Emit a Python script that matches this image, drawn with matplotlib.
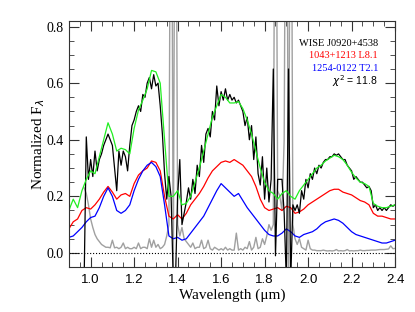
import numpy as np
import matplotlib
matplotlib.use("Agg")
import matplotlib.pyplot as plt
from matplotlib.ticker import MultipleLocator

# model grid (0.02 um steps)
model_wave = np.round(np.arange(0.90, 2.401, 0.02), 2)

green_fit = [0.15, 0.19, 0.16, 0.22, 0.26, 0.29, 0.28, 0.34, 0.40, 0.46,
             0.42, 0.36, 0.37, 0.365, 0.35, 0.44, 0.505, 0.54, 0.58, 0.645,
             0.64, 0.60, 0.40, 0.20, 0.20, 0.22, 0.17, 0.175, 0.20, 0.25,
             0.30, 0.36, 0.42, 0.48, 0.52, 0.56, 0.55, 0.53, 0.53, 0.535,
             0.51, 0.47, 0.42, 0.36, 0.30, 0.25, 0.22, 0.21, 0.19, 0.21,
             0.22, 0.20, 0.19, 0.22, 0.24, 0.26, 0.28, 0.30, 0.31, 0.325,
             0.335, 0.345, 0.34, 0.33, 0.31, 0.285, 0.265, 0.25, 0.245, 0.235,
             0.175, 0.165, 0.16, 0.16, 0.165, 0.17]

red_l81 = [0.085, 0.11, 0.12, 0.15, 0.16, 0.155, 0.17, 0.19, 0.215, 0.235,
           0.215, 0.19, 0.205, 0.21, 0.20, 0.245, 0.275, 0.29, 0.30, 0.325,
           0.32, 0.29, 0.20, 0.13, 0.12, 0.135, 0.12, 0.14, 0.17, 0.19,
           0.21, 0.235, 0.265, 0.29, 0.305, 0.32, 0.325, 0.32, 0.33, 0.32,
           0.31, 0.29, 0.27, 0.235, 0.19, 0.16, 0.15, 0.155, 0.16, 0.15,
           0.165, 0.16, 0.14, 0.145, 0.155, 0.17, 0.18, 0.19, 0.20, 0.21,
           0.22, 0.225, 0.225, 0.215, 0.21, 0.205, 0.195, 0.185, 0.18, 0.17,
           0.14, 0.13, 0.13, 0.125, 0.12, 0.12]

blue_t21 = [0.055, 0.06, 0.075, 0.09, 0.11, 0.125, 0.13, 0.16, 0.20, 0.23,
            0.20, 0.15, 0.14, 0.15, 0.17, 0.22, 0.26, 0.29, 0.31, 0.32,
            0.305, 0.27, 0.17, 0.06, 0.05, 0.055, 0.045, 0.05, 0.07, 0.09,
            0.11, 0.13, 0.16, 0.19, 0.22, 0.245, 0.23, 0.215, 0.20, 0.21,
            0.185, 0.16, 0.14, 0.12, 0.10, 0.08, 0.065, 0.06, 0.06, 0.07,
            0.085, 0.075, 0.06, 0.055, 0.065, 0.07, 0.075, 0.085, 0.10, 0.11,
            0.115, 0.12, 0.115, 0.105, 0.09, 0.075, 0.065, 0.06, 0.055, 0.05,
            0.045, 0.04, 0.035, 0.035, 0.04, 0.045]

# observed spectrum (0.01 um steps)
data_wave = np.round(np.arange(0.97, 2.405, 0.01), 2)

flux = [-0.10, 0.41, 0.26, 0.33, 0.27, 0.36, 0.29, 0.33, 0.35, 0.38,
        0.40, 0.42, 0.40, 0.38, 0.30, 0.22, 0.36, 0.31, 0.36, 0.34,
        0.29, 0.38, 0.45, 0.47, 0.50, 0.52, 0.50, 0.56, 0.55, 0.60,
        0.62, 0.58, 0.63, 0.59, 0.60, 0.52, 0.42, 0.28, 0.19, 0.27,
        0.20, -0.10, -0.10, 0.20, 0.33, 0.10, 0.14, 0.18, 0.23, 0.19,
        0.26, 0.21, 0.31, 0.27, 0.38, 0.32, 0.42, 0.44, 0.41, 0.50,
        0.47, 0.59, 0.52, 0.57, 0.54, 0.58, 0.54, 0.56, 0.54, 0.55,
        0.53, 0.54, 0.52, 0.50, 0.45, 0.48, 0.40, 0.45, 0.33, 0.41,
        0.28, 0.24, 0.34, 0.19, 0.30, 0.18, 0.26, 0.65, -0.01, 0.26,
        0.26, 0.26, 0.14, -0.10, 0.65, -0.10, 0.17, 0.15, 0.17, 0.14,
        0.22, 0.19, 0.26, 0.23, 0.28, 0.26, 0.30, 0.28, 0.31, 0.30,
        0.32, 0.33, 0.33, 0.34, 0.34, 0.35, 0.345, 0.35, 0.34, 0.33,
        0.33, 0.31, 0.30, 0.29, 0.26, 0.27, 0.26, 0.25, 0.25, 0.24,
        0.23, 0.235, 0.22, 0.16, 0.17, 0.15, 0.16, 0.15, 0.16, 0.15,
        0.16, 0.17, 0.165, 0.17]

noise = [0.23, 0.21, 0.17, 0.12, 0.09, 0.065, 0.05, 0.04, 0.03, 0.025,
         0.02, 0.02, 0.018, 0.045, 0.018, 0.02, 0.015, 0.02, 0.035, 0.015,
         0.02, 0.015, 0.015, 0.02, 0.015, 0.035, 0.015, 0.02, 0.02, 0.015,
         0.05, 0.02, 0.045, 0.02, 0.03, 0.015, 0.02, 0.03, 0.06, 0.10,
         2.0, -0.1, 2.0, 0.10, 0.06, 0.09, 0.05, 0.04, 0.03, 0.02,
         0.035, 0.015, 0.02, 0.02, 0.045, 0.015, 0.02, 0.045, 0.015, 0.01,
         0.02, 0.015, 0.01, 0.015, 0.01, 0.02, 0.01, 0.015, 0.01, 0.01,
         0.07, 0.01, 0.015, 0.01, 0.02, 0.015, 0.04, 0.01, 0.02, 0.055,
         0.015, 0.02, 0.05, 0.03, 0.06, 0.10, 0.08, 0.10, 2.0, 0.22,
         0.20, 0.15, 0.40, 2.0, -0.1, 2.0, 0.10, 0.05, 0.03, 0.05,
         0.02, 0.015, 0.01, 0.045, 0.015, 0.01, 0.01, 0.008, 0.008, 0.008,
         0.01, 0.008, 0.007, 0.008, 0.007, 0.008, 0.012, 0.007, 0.008, 0.007,
         0.008, 0.012, 0.007, 0.008, 0.007, 0.008, 0.008, 0.01, 0.008, 0.008,
         0.009, 0.009, 0.01, 0.01, 0.01, 0.011, 0.012, 0.012, 0.012, 0.013,
         0.014, 0.025, 0.015, 0.016]

labels = ["WISE J0920+4538", "1043+1213 L8.1", "1254-0122 T2.1"]
label_colors = ["black", "red", "blue"]
chi2 = 11.8

fig = plt.figure(figsize=(4.15, 3.12), dpi=100)
ax = fig.add_axes([0.166, 0.144, 0.786, 0.789])

ax.plot(data_wave, noise, color="#a0a0a0", lw=1.0)
ax.plot(model_wave, red_l81, color="red", lw=0.9)
ax.plot(model_wave, blue_t21, color="blue", lw=0.9)
ax.plot(data_wave, flux, color="black", lw=0.9)
ax.plot(model_wave, green_fit, color="#22ee22", lw=0.9)
ax.axhline(0.0, color="black", ls=":", lw=0.8)

ax.set_xlim(0.9, 2.4)
ax.set_ylim(-0.05, 0.82)
ax.xaxis.set_major_locator(MultipleLocator(0.2))
ax.xaxis.set_minor_locator(MultipleLocator(0.05))
ax.yaxis.set_major_locator(MultipleLocator(0.2))
ax.yaxis.set_minor_locator(MultipleLocator(0.05))
ax.tick_params(which="both", direction="in", top=True, right=True, color="#333333")
ax.tick_params(which="major", length=7)
ax.tick_params(which="minor", length=3.5)
ax.tick_params(axis="x", pad=5, labelsize=9.5)
ax.tick_params(axis="y", pad=4, labelsize=10)
for t in ax.get_xticklabels():
    t.set_family("Liberation Sans")
for t in ax.get_yticklabels():
    t.set_family("Liberation Serif")
for s in ax.spines.values():
    s.set_color("#333333")

ax.set_xlabel("Wavelength (\u03bcm)", family="Liberation Serif", fontsize=11, labelpad=2)
ax.set_ylabel(r"Normalized F$_\lambda$", family="Liberation Serif", fontsize=11, labelpad=-1)

ypos = [0.909, 0.858, 0.808]
for txt, c, yy in zip(labels, label_colors, ypos):
    ax.text(0.948, yy, txt, color=c, transform=ax.transAxes, ha="right", va="center",
            family="Liberation Serif", fontsize=7.5)
ax.text(0.948, 0.756, r"$\chi^2$ = %.1f" % chi2, transform=ax.transAxes, ha="right",
        va="center", family="Liberation Sans", fontsize=7.5)

fig.savefig("out.png", dpi=100)
